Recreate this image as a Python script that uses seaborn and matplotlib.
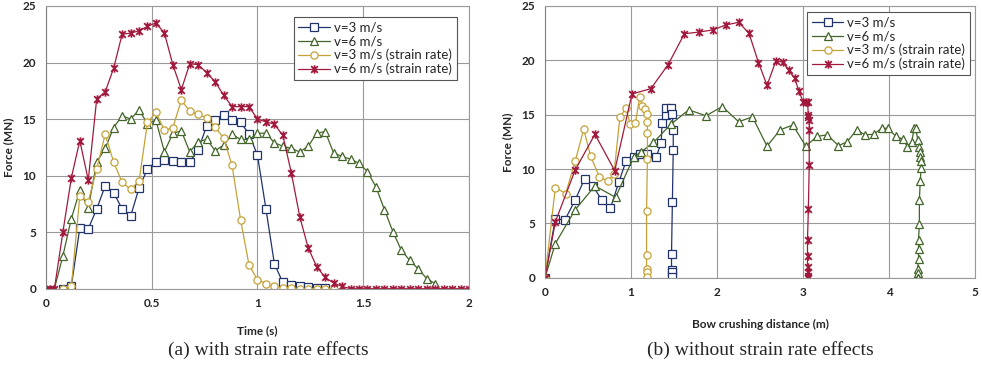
import numpy as np
import pandas as pd
import matplotlib
matplotlib.use("Agg")
import matplotlib.pyplot as plt
from matplotlib.path import Path
import seaborn as sns

# ---- panel (a): force vs time, with strain rate effects ----
time_v3 = [0.08, 0.12, 0.16, 0.20, 0.24, 0.28, 0.32, 0.36, 0.40, 0.44, 0.48, 0.52, 0.56, 0.60, 0.64, 0.68,
           0.72, 0.76, 0.80, 0.84, 0.88, 0.92, 0.96, 1.00, 1.04, 1.08, 1.12, 1.16, 1.20, 1.24, 1.28, 1.32]
force_v3 = [0, 0.24, 5.35, 5.3, 7.05, 9.1, 8.5, 7.05, 6.4, 8.9, 10.6, 11.2, 11.4, 11.3, 11.2, 11.2,
            12.3, 14.4, 14.9, 15.4, 14.9, 14.7, 13.7, 11.8, 7.05, 2.2, 0.55, 0.3, 0.2, 0.15, 0.1, 0.1]

time_v6 = [0.04, 0.08, 0.12, 0.16, 0.20, 0.24, 0.28, 0.32, 0.36, 0.40, 0.44, 0.48, 0.52, 0.56, 0.60, 0.64,
           0.68, 0.72, 0.76, 0.80, 0.84, 0.88, 0.92, 0.96, 1.00, 1.04, 1.08, 1.12, 1.16, 1.20, 1.24, 1.28,
           1.32, 1.36, 1.40, 1.44, 1.48, 1.52, 1.56, 1.60, 1.64, 1.68, 1.72, 1.76, 1.80, 1.84]
force_v6 = [0, 2.9, 6.2, 8.7, 7.1, 11.2, 12.4, 14.25, 15.3, 15.0, 15.8, 14.6, 14.9, 12.1, 13.75, 13.95,
            12.1, 13.0, 13.2, 12.2, 12.7, 13.65, 13.2, 13.2, 13.75, 13.75, 12.9, 12.6, 12.4, 12.1, 12.6, 13.75,
            13.9, 12.0, 11.7, 11.45, 11.1, 10.35, 9.0, 7.0, 5.05, 3.4, 2.5, 1.75, 0.9, 0.45]

time_v3_sr = [0.08, 0.12, 0.16, 0.20, 0.24, 0.28, 0.32, 0.36, 0.40, 0.44, 0.48, 0.52, 0.56, 0.60, 0.64, 0.68,
              0.72, 0.76, 0.80, 0.84, 0.88, 0.92, 0.96, 1.00, 1.04, 1.08, 1.12, 1.16, 1.20, 1.24, 1.28, 1.32, 1.36]
force_v3_sr = [0, 0.2, 8.2, 7.7, 10.6, 13.65, 11.2, 9.4, 8.8, 9.5, 14.7, 15.6, 14.0, 14.25, 16.65, 15.7,
               15.45, 15.1, 14.3, 13.3, 10.9, 6.1, 2.1, 0.8, 0.45, 0.2, 0.1, 0.05, 0, 0, 0, 0, 0]

time_v6_sr = [0, 0.02, 0.04, 0.08, 0.12, 0.16, 0.20, 0.24, 0.28, 0.32, 0.36, 0.40, 0.44, 0.48, 0.52, 0.56,
              0.60, 0.64, 0.68, 0.72, 0.76, 0.80, 0.84, 0.88, 0.92, 0.96, 1.00, 1.04, 1.08, 1.12, 1.16, 1.20,
              1.24, 1.28, 1.32, 1.36, 1.40, 1.44, 1.48, 1.52, 1.56, 1.60, 1.64, 1.68, 1.72, 1.76, 1.80, 1.84,
              1.88, 1.92, 1.96, 2.00]
force_v6_sr = [0, 0, 0, 5.0, 9.8, 13.1, 9.6, 16.8, 17.4, 19.5, 22.5, 22.6, 22.8, 23.2, 23.5, 22.6,
               19.8, 17.6, 19.9, 19.8, 19.1, 18.3, 17.1, 16.1, 16.1, 16.1, 15.0, 14.75, 14.55, 13.55, 10.25, 6.35,
               3.6, 1.95, 1.0, 0.5, 0.2, 0, 0, 0, 0, 0, 0, 0, 0, 0, 0, 0,
               0, 0, 0, 0]

# ---- panel (b): force vs bow crushing distance, without strain rate effects ----
dist_v3 = [0, 0.12, 0.23, 0.35, 0.46, 0.56, 0.66, 0.76, 0.86, 0.94, 1.03, 1.10, 1.19, 1.29, 1.35, 1.36,
           1.41, 1.41, 1.46, 1.48, 1.49, 1.49, 1.48, 1.47, 1.47, 1.47, 1.47]
fb_v3 = [0, 5.45, 5.3, 7.15, 9.1, 8.4, 7.15, 6.4, 8.85, 10.7, 11.15, 11.4, 11.4, 11.1, 12.4, 14.2,
         15.0, 15.6, 15.6, 15.1, 13.6, 11.75, 7.0, 2.2, 0.7, 0.5, 0.1]

dist_v6 = [0, 0.12, 0.35, 0.58, 0.82, 1.03, 1.12, 1.26, 1.46, 1.67, 1.87, 2.06, 2.25, 2.41, 2.58, 2.73,
           2.88, 3.03, 3.16, 3.28, 3.41, 3.51, 3.62, 3.72, 3.82, 3.91, 3.98, 4.08, 4.16, 4.21, 4.26, 4.29,
           4.31, 4.33, 4.35, 4.36, 4.36, 4.37, 4.37, 4.36, 4.35, 4.35, 4.34, 4.34, 4.34, 4.33, 4.33, 4.33, 4.33]
fb_v6 = [0, 3.15, 6.25, 8.45, 7.4, 11.1, 11.6, 12.45, 14.1, 15.45, 14.9, 15.75, 14.35, 14.8, 12.1, 13.6,
         14.05, 12.1, 13.0, 13.15, 12.15, 12.5, 13.6, 13.15, 13.2, 13.75, 13.75, 13.0, 12.75, 12.05, 12.5, 13.75,
         13.75, 12.7, 12.05, 11.6, 11.15, 10.7, 10.1, 8.9, 7.15, 4.95, 3.5, 2.6, 1.7, 0.85, 0.4, 0, 0]

dist_v3_sr = [0, 0.12, 0.24, 0.35, 0.45, 0.53, 0.63, 0.73, 0.80, 0.87, 0.94, 0.99, 1.05, 1.10, 1.13, 1.16,
              1.18, 1.19, 1.19, 1.19, 1.18, 1.18, 1.18, 1.18, 1.18]
fb_v3_sr = [0, 8.3, 7.75, 10.7, 13.65, 11.2, 9.3, 8.9, 9.5, 14.75, 15.6, 14.15, 14.2, 16.65, 15.8, 15.5,
            15.1, 14.3, 13.3, 10.9, 6.1, 2.1, 0.8, 0.5, 0.1]

dist_v6_sr = [0, 0.12, 0.35, 0.58, 0.81, 1.01, 1.23, 1.43, 1.62, 1.79, 1.95, 2.10, 2.25, 2.37, 2.48, 2.58,
              2.68, 2.76, 2.83, 2.90, 2.95, 3.00, 3.03, 3.05, 3.06, 3.06, 3.07, 3.07, 3.07, 3.06, 3.05, 3.05,
              3.05, 3.05, 3.05, 3.05]
fb_v6_sr = [0, 5.15, 9.9, 13.2, 9.85, 16.9, 17.4, 19.6, 22.45, 22.6, 22.8, 23.25, 23.5, 22.5, 19.8, 17.7,
            19.9, 19.85, 19.1, 18.35, 17.2, 16.15, 16.15, 16.15, 15.0, 14.75, 14.55, 13.6, 10.4, 6.3, 3.5, 2.0,
            1.0, 0.5, 0.2, 0]

labels = ["v=3 m/s", "v=6 m/s", "v=3 m/s (strain rate)", "v=6 m/s (strain rate)"]
colors = ["#22336B", "#43652A", "#C4A237", "#A11A3D"]

# Excel style "star" marker: an X with a vertical bar through it
star = Path([(-1, -1), (1, 1), (-1, 1), (1, -1), (0, -1.25), (0, 1.25)],
            [Path.MOVETO, Path.LINETO, Path.MOVETO, Path.LINETO, Path.MOVETO, Path.LINETO])
markers = ["s", "^", "o", star]

sns.set_theme(style="whitegrid")
plt.rcParams["font.family"] = ["Lato", "DejaVu Sans"]

fig = plt.figure(figsize=(9.82, 3.65), dpi=100)
ax_a = fig.add_axes([0.0468, 0.209, 0.4308, 0.7746])
ax_b = fig.add_axes([0.555, 0.239, 0.4382, 0.7446])


def draw_panel(ax, series, xmax, xticks, xlabel, xpad):
    for (x, y), lab, col, mk in zip(series, labels, colors, markers):
        is_star = isinstance(mk, Path)
        sns.lineplot(x=x, y=y, ax=ax, sort=False, estimator=None, label=lab, color=col,
                     linewidth=0.9, marker=mk, markersize=6.0 if is_star else 5.2,
                     markerfacecolor="none" if is_star else "white", markeredgecolor=col,
                     markeredgewidth=1.3 if is_star else 0.9)
    ax.set_xlim(0, xmax)
    ax.set_ylim(0, 25)
    ax.set_xticks(xticks)
    ax.set_xticklabels([f"{t:g}" for t in xticks])
    ax.set_yticks([0, 5, 10, 15, 20, 25])
    ax.grid(True, color="#9A9A9A", linewidth=0.8)
    for sp in ax.spines.values():
        sp.set_color("#9A9A9A")
        sp.set_linewidth(0.8)
    ax.spines["left"].set_color("#808080")
    ax.tick_params(length=0, labelsize=8.5, pad=7)
    for t in ax.get_xticklabels() + ax.get_yticklabels():
        t.set_fontweight("bold")
    ax.set_xlabel(xlabel, fontsize=8.5, fontweight="bold", labelpad=xpad)
    ax.set_ylabel("Force (MN)", fontsize=8.5, fontweight="bold", labelpad=6)


draw_panel(ax_a, [(time_v3, force_v3), (time_v6, force_v6), (time_v3_sr, force_v3_sr), (time_v6_sr, force_v6_sr)],
           2, [0, 0.5, 1, 1.5, 2], "Time (s)", 11)
draw_panel(ax_b, [(dist_v3, fb_v3), (dist_v6, fb_v6), (dist_v3_sr, fb_v3_sr), (dist_v6_sr, fb_v6_sr)],
           5, [0, 1, 2, 3, 4, 5], "Bow crushing distance (m)", 15)

for ax, anchor in [(ax_a, (0.586, 0.961)), (ax_b, (0.609, 0.978))]:
    leg = ax.legend(loc="upper left", bbox_to_anchor=anchor, fontsize=9.5, frameon=True,
                    fancybox=False, handlelength=2.4, handletextpad=0.3, borderpad=0.35,
                    labelspacing=0.12, numpoints=1, borderaxespad=0)
    leg.get_frame().set_edgecolor("#555555")
    leg.get_frame().set_linewidth(0.8)
    leg.get_frame().set_alpha(1)

fig.text(268 / 982, 0.041, "(a) with strain rate effects", ha="center", va="center",
         fontsize=14, family="Liberation Serif")
fig.text(760 / 982, 0.041, "(b) without strain rate effects", ha="center", va="center",
         fontsize=14, family="Liberation Serif")

fig.savefig("out.png", dpi=100)
